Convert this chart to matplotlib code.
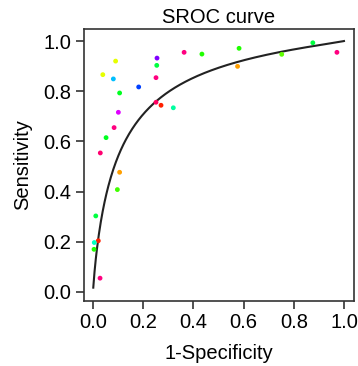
import numpy as np
import matplotlib
matplotlib.use('Agg')
import matplotlib.pyplot as plt

plt.rcParams['font.family'] = ['Liberation Sans', 'DejaVu Sans']

# study points (1-specificity, sensitivity)
fpr = [0.090, 0.255, 0.363, 0.434, 0.254, 0.039, 0.081, 0.251, 0.182, 0.106,
       0.251, 0.271, 0.320, 0.101, 0.084, 0.052, 0.029, 0.582, 0.576, 0.752,
       0.876, 0.972, 0.106, 0.097, 0.011, 0.021, 0.005, 0.004, 0.028]
sens = [0.920, 0.932, 0.955, 0.948, 0.903, 0.866, 0.849, 0.854, 0.817, 0.793,
        0.756, 0.744, 0.734, 0.716, 0.655, 0.615, 0.554, 0.971, 0.899, 0.947,
        0.993, 0.955, 0.477, 0.408, 0.303, 0.204, 0.197, 0.170, 0.055]
colors = ['#E6FF00', '#8000FF', '#FF0080', '#20FF00', '#00FF40', '#E6FF00',
          '#00BFFF', '#FF0080', '#0040FF', '#00FF20', '#FF0060', '#FF2000',
          '#00FFA0', '#DF00FF', '#FF0080', '#00FF20', '#FF0070', '#20FF00',
          '#FF9F00', '#60FF00', '#00FF40', '#FF0080', '#FF9F00', '#40FF00',
          '#00FF40', '#FF2000', '#00FFC0', '#20FF00', '#FF0080']

# SROC fit: logit(sens) = A + B * logit(1-spec)
A = 2.125
B = 0.893

x = np.linspace(0.001, 1.0, 400)[:-1]
lx = np.log(x / (1 - x))
y = 1 / (1 + np.exp(-(A + B * lx)))
x = np.append(x, 1.0)
y = np.append(y, 1.0)

fig = plt.figure(figsize=(3.58, 3.66), dpi=100)
ax = fig.add_axes([0.2346, 0.1776, 0.7542, 0.7432])

ax.plot(x, y, color='#222222', lw=1.5)
ax.scatter(fpr, sens, c=colors, s=12, linewidths=0, zorder=3)

ax.set_xlim(-0.036, 1.04)
ax.set_ylim(-0.036, 1.048)
ticks = [0.0, 0.2, 0.4, 0.6, 0.8, 1.0]
ax.set_xticks(ticks)
ax.set_yticks(ticks)
ax.set_xticklabels(['%.1f' % t for t in ticks])
ax.set_yticklabels(['%.1f' % t for t in ticks])
ax.tick_params(labelsize=14.5, length=6, width=1.2, color='#333333', pad=3)
for s in ax.spines.values():
    s.set_color('#333333')
    s.set_linewidth(1.2)

ax.set_title('SROC curve', fontsize=14.5, pad=4)
ax.set_xlabel('1-Specificity', fontsize=14.5, labelpad=8)
ax.set_ylabel('Sensitivity', fontsize=14.5, labelpad=8)

fig.savefig('out.png', dpi=100)
